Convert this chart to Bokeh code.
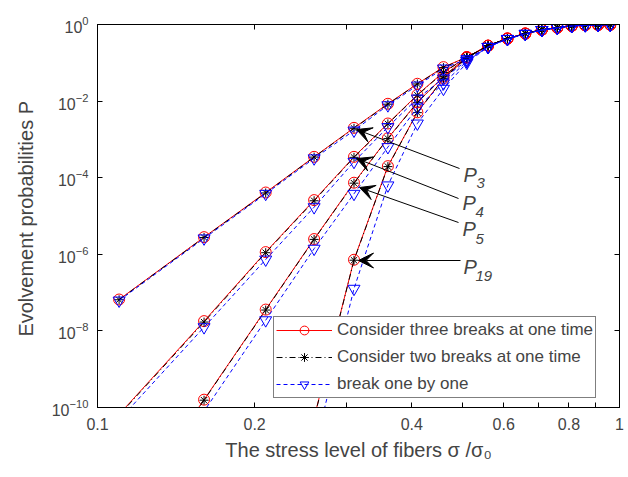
from bokeh.plotting import figure
from bokeh.models import (LogAxis, FixedTicker, Label, Arrow, VeeHead, Legend,
                          LegendItem, Range1d)
from bokeh.embed import file_html
from bokeh.resources import INLINE

# ---------------- data ----------------
x = [0.11, 0.16, 0.21, 0.26, 0.31, 0.36, 0.41, 0.46, 0.51,
     0.56, 0.61, 0.66, 0.71, 0.76, 0.81, 0.86, 0.91, 0.96]

tail_red = [0.28, 0.43, 0.58, 0.73, 0.83, 0.92, 0.96, 0.98, 0.99]
tail_black = [0.28, 0.43, 0.58, 0.73, 0.83, 0.92, 0.96, 0.98, 0.99]
tail_blue = [0.26, 0.42, 0.57, 0.72, 0.82, 0.91, 0.96, 0.98, 0.99]

# three breaks at one time (red)
p3_red = [6.6e-8, 2.8e-6, 4.1e-5, 3.5e-4, 2.0e-3, 8.5e-3, 2.83e-2, 7.7e-2, 0.141] + tail_red
p4_red = [6.6e-11, 1.8e-8, 1.14e-6, 2.6e-5, 3.5e-4, 2.6e-3, 1.46e-2, 5.7e-2, 0.14] + tail_red
p5_red = [1.0e-13, 1.6e-10, 3.6e-8, 2.5e-6, 7.4e-5, 1.07e-3, 9.3e-3, 4.4e-2, 0.14] + tail_red
p19_red = [5.4e-11, 7.2e-7, 2.0e-4, 5.1e-3, 3.9e-2, 0.135] + tail_red

# two breaks at one time (black)
p3_black = [6.5e-8, 2.75e-6, 4.0e-5, 3.45e-4, 1.95e-3, 8.3e-3, 2.8e-2, 7.5e-2, 0.14] + tail_black
p4_black = [6.3e-11, 1.7e-8, 1.1e-6, 2.5e-5, 3.4e-4, 2.55e-3, 1.42e-2, 5.6e-2, 0.138] + tail_black
p5_black = [9.5e-14, 1.55e-10, 3.5e-8, 2.45e-6, 7.2e-5, 1.05e-3, 9.1e-3, 4.3e-2, 0.138] + tail_black
p19_black = [5.2e-11, 7.0e-7, 1.95e-4, 5.0e-3, 3.85e-2, 0.133] + tail_black

# break one by one (blue)
p3_blue = [6.2e-8, 2.6e-6, 3.8e-5, 3.2e-4, 1.7e-3, 7.8e-3, 2.55e-2, 7.1e-2, 0.125] + tail_blue
p4_blue = [4.7e-11, 1.25e-8, 7.3e-7, 1.7e-5, 2.6e-4, 2.1e-3, 1.17e-2, 3.9e-2, 0.115] + tail_blue
p5_blue = [5.0e-14, 8.0e-11, 1.9e-8, 1.4e-6, 3.8e-5, 6.3e-4, 6.8e-3, 2.9e-2, 0.11] + tail_blue
p19_blue = [7.6e-12, 1.26e-7, 6.3e-5, 2.6e-3, 2.1e-2, 0.10] + tail_blue

x19 = x[3:]

x_ticks_labeled = [0.1, 0.2, 0.4, 0.6, 0.8, 1.0]
x_tick_labels = ["0.1", "0.2", "0.4", "0.6", "0.8", "1"]
x_ticks_unlabeled = [0.3, 0.5, 0.7, 0.9]
y_ticks = [1e-10, 1e-8, 1e-6, 1e-4, 1e-2, 1.0]

legend_labels = ["Consider three breaks at one time",
                 "Consider two breaks at one time",
                 "break one by one"]

x_title = "The stress level of fibers \u03c3 /\u03c3\u2080"
y_title = "Evolvement probabilities  P"

FONT = "Liberation Sans"


# screenshot pixel -> data coordinate helpers (for annotations only)
def px_x(px):
    return 10 ** (-1 + (px - 97) / 522.0)


def px_y(py):
    return 10 ** (-(py - 24) / 38.3)


p = figure(x_axis_type="log", y_axis_type="log",
           x_range=Range1d(0.1, 1.0), y_range=Range1d(1e-10, 1.0),
           frame_width=522, frame_height=383,
           min_border_left=97, min_border_right=9,
           min_border_top=24, min_border_bottom=70,
           output_backend="svg", toolbar_location=None)
p.grid.visible = False
p.outline_line_color = "black"
p.outline_line_width = 1
p.background_fill_color = "white"


def style_x(ax, labels=True):
    ax.ticker = FixedTicker(ticks=x_ticks_labeled, minor_ticks=x_ticks_unlabeled)
    ax.major_tick_in = 5
    ax.major_tick_out = 0
    ax.minor_tick_in = 5
    ax.minor_tick_out = 0
    ax.minor_tick_line_color = "black"
    ax.axis_line_color = "black"
    if labels:
        ax.major_label_overrides = {t: l for t, l in zip(x_ticks_labeled, x_tick_labels)}
        ax.major_label_text_font = FONT
        ax.major_label_text_font_size = "16px"
        ax.major_label_standoff = 10
    else:
        ax.major_label_text_font_size = "1px"
        ax.major_label_text_color = None
        ax.major_label_standoff = 0


def style_y(ax, labels=True):
    ax.ticker = FixedTicker(ticks=y_ticks)
    ax.major_tick_in = 5
    ax.major_tick_out = 0
    ax.minor_tick_line_color = None
    ax.axis_line_color = "black"
    if labels:
        ax.major_label_text_font = FONT
        ax.major_label_text_font_size = "16px"
        ax.major_label_standoff = 9
    else:
        ax.major_label_text_font_size = "1px"
        ax.major_label_text_color = None
        ax.major_label_standoff = 0


for ax in p.xaxis:
    style_x(ax)
    ax.axis_label = x_title
    ax.axis_label_text_font = FONT
    ax.axis_label_text_font_size = "20px"
    ax.axis_label_text_font_style = "normal"
    ax.axis_label_standoff = 6
for ax in p.yaxis:
    style_y(ax)
    ax.axis_label = y_title
    ax.axis_label_text_font = FONT
    ax.axis_label_text_font_size = "20px"
    ax.axis_label_text_font_style = "normal"
    ax.axis_label_standoff = 12

top = LogAxis()
style_x(top, labels=False)
right = LogAxis()
style_y(right, labels=False)
p.add_layout(top, "above")
p.add_layout(right, "right")


def series(xs, ys, color, marker, dash, size):
    ln = p.line(xs, ys, line_color=color, line_width=1, line_dash=dash)
    sc = p.scatter(xs, ys, marker=marker, size=size, line_color=color,
                   fill_color=None, line_width=1)
    return ln, sc


red = [series(xx, yy, "#ff0000", "circle", "solid", 11)
       for xx, yy in [(x, p3_red), (x, p4_red), (x, p5_red), (x19, p19_red)]]
black = [series(xx, yy, "#000000", "asterisk", "6 3 1 3", 9)
         for xx, yy in [(x, p3_black), (x, p4_black), (x, p5_black), (x19, p19_black)]]
blue = [series(xx, yy, "#0000ff", "inverted_triangle", "4 3", 12)
        for xx, yy in [(x, p3_blue), (x, p4_blue), (x, p5_blue), (x19, p19_blue)]]

legend = Legend(items=[LegendItem(label=legend_labels[0], renderers=list(red[0])),
                       LegendItem(label=legend_labels[1], renderers=list(black[0])),
                       LegendItem(label=legend_labels[2], renderers=list(blue[0]))],
                location=(176, 9), padding=2, spacing=5, margin=0,
                label_height=22, glyph_height=22, glyph_width=56,
                label_standoff=5,
                label_text_font=FONT, label_text_font_size="17px",
                border_line_color="black", border_line_width=1,
                background_fill_color="white", background_fill_alpha=1)
p.add_layout(legend)

# arrows and P labels: (tail px, tip px, label "P" origin, subscript)
annots = [
    ((459, 168), (356, 129), (463, 174), "3", (476, 182)),
    ((458, 198), (356, 158), (462, 202), "4", (475, 211)),
    ((458, 222), (359, 187), (462, 228), "5", (475, 238)),
    ((460, 260), (358, 260), (463, 266), "19", (475, 275)),
]
for (tx, ty), (hx, hy), (lx, ly), sub, (sx, sy) in annots:
    p.add_layout(Arrow(end=VeeHead(size=15, fill_color="black", line_color="black"),
                       x_start=px_x(tx), y_start=px_y(ty),
                       x_end=px_x(hx), y_end=px_y(hy),
                       line_color="black", line_width=1))
    p.add_layout(Label(x=px_x(lx), y=px_y(ly), text="P", text_font=FONT,
                       text_font_style="italic", text_font_size="20px",
                       text_baseline="alphabetic", text_align="left"))
    p.add_layout(Label(x=px_x(sx), y=px_y(sy), text=sub, text_font=FONT,
                       text_font_style="italic", text_font_size="15px",
                       text_baseline="alphabetic", text_align="left"))

open("out.html", "w").write(file_html(p, INLINE))
